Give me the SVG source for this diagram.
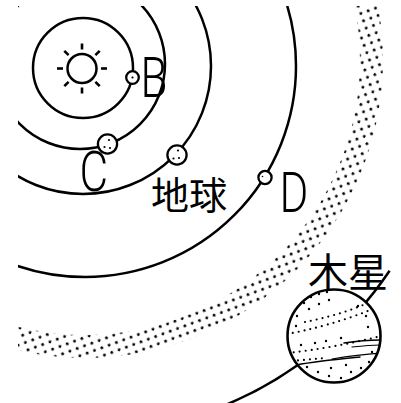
<svg xmlns="http://www.w3.org/2000/svg" width="401" height="403" viewBox="0 0 401 403">
  <style>
    .orbit { fill: none; stroke: #000; stroke-width: 2.5; }
    .planet { fill: #fff; stroke: #000; stroke-width: 2.3; }
    .spot { fill: #000; }
    .ray { stroke: #000; stroke-width: 2.6; }
    .letter { font-family: Roboto, "Liberation Sans", sans-serif; font-weight: 300; font-size: 55px; fill: #000; }
    .cjk { font-family: "Noto Sans CJK JP", "Noto Sans CJK SC", sans-serif; fill: #000; }
    .dotline { fill: none; stroke: #000; stroke-width: 2.2; stroke-linecap: round; stroke-dasharray: 0 6; }
    .band { fill: none; stroke: #000; stroke-linecap: round; }
  </style>
  <defs>
    <clipPath id="frame">
      <rect x="18" y="6" width="383" height="397"/>
    </clipPath>
    <clipPath id="jupiterInside">
      <circle cx="334" cy="336" r="46"/>
    </clipPath>
    <pattern id="beltDots" width="11" height="11" patternUnits="userSpaceOnUse" patternTransform="rotate(25)">
      <circle cx="2.75" cy="2.75" r="1.4" fill="#000"/>
      <circle cx="8.25" cy="8.25" r="1.4" fill="#000"/>
    </pattern>
  </defs>

  <rect width="401" height="403" fill="#fff"/>

  <!-- orbits -->
  <g id="connectors">
    <circle class="orbit" cx="83" cy="68" r="50"/>
    <g clip-path="url(#frame)">
      <circle class="orbit" cx="80" cy="64" r="85"/>
      <circle class="orbit" cx="83" cy="66" r="128"/>
      <circle class="orbit" cx="85" cy="66" r="211"/>
    </g>
    <path class="orbit" d="M389.6,270.7 A367,367 0 0 1 225.4,405"/>
  </g>

  <!-- asteroid belt -->
  <g id="belt" clip-path="url(#frame)">
    <path d="M85,-215 A275,275 0 0 1 85,335 A275,275 0 0 1 -190,60 L-213,60 A298,298 0 0 0 85,358 A298,298 0 0 0 85,-238 Z"
          fill="url(#beltDots)"/>
  </g>

  <!-- sun -->
  <g id="sun">
    <circle cx="82" cy="68.5" r="14.5" fill="#fff" stroke="#000" stroke-width="2.5"/>
    <g transform="translate(82,68.5)">
      <line class="ray" x1="19" y1="0" x2="25" y2="0"/>
      <line class="ray" x1="-19" y1="0" x2="-25" y2="0"/>
      <line class="ray" x1="0" y1="19" x2="0" y2="25"/>
      <line class="ray" x1="0" y1="-19" x2="0" y2="-25"/>
      <line class="ray" x1="13.4" y1="13.4" x2="17.7" y2="17.7"/>
      <line class="ray" x1="-13.4" y1="13.4" x2="-17.7" y2="17.7"/>
      <line class="ray" x1="13.4" y1="-13.4" x2="17.7" y2="-17.7"/>
      <line class="ray" x1="-13.4" y1="-13.4" x2="-17.7" y2="-17.7"/>
    </g>
  </g>

  <!-- planet B -->
  <g id="planet-b">
    <circle class="planet" cx="132.5" cy="77.5" r="6.3"/>
    <circle class="spot" cx="132.5" cy="77.5" r="1.1"/>
    <text class="letter" transform="translate(140.5,97) scale(0.8,1)">B</text>
  </g>

  <!-- planet C -->
  <g id="planet-c">
    <circle class="planet" cx="107.5" cy="144" r="9.6"/>
    <circle class="spot" cx="109" cy="140" r="1.1"/>
    <circle class="spot" cx="104.5" cy="147" r="1.1"/>
    <circle class="spot" cx="110" cy="148" r="1.1"/>
    <text class="letter" transform="translate(79.5,191) scale(0.8,1)">C</text>
  </g>

  <!-- Earth -->
  <g id="earth">
    <circle class="planet" cx="177" cy="155" r="9.6"/>
    <circle class="spot" cx="178" cy="150.5" r="1.1"/>
    <circle class="spot" cx="173.5" cy="158.5" r="1.1"/>
    <circle class="spot" cx="179" cy="158" r="1.1"/>
    <text class="cjk" x="151" y="209" font-size="38">地球</text>
  </g>

  <!-- planet D -->
  <g id="planet-d">
    <circle class="planet" cx="265" cy="177.5" r="6.6"/>
    <circle class="spot" cx="262.5" cy="176.5" r="0.8"/>
    <text class="letter" transform="translate(279.5,212) scale(0.8,1)">D</text>
  </g>

  <!-- Jupiter -->
  <g id="jupiter">
    <circle cx="334" cy="336" r="46.5" fill="#fff"/>
    <g clip-path="url(#jupiterInside)">
      <path class="dotline" d="M287,334 C310,330 345,321 380,306"/>
      <path class="dotline" d="M305,322 C325,318 348,312 370,302"/>
      <path class="dotline" d="M288,353 C315,350 350,344 381,336"/>
      <path class="dotline" d="M292,361 L325,358"/>
      <path class="band" stroke-width="1.6" d="M344,343 C358,341 370,340 382,340"/>
      <path class="band" stroke-width="1.2" d="M352,347 C362,346 372,345 382,345"/>
      <path class="band" stroke-width="1.4" d="M296,365 C318,361 340,359 360,357"/>
      <path class="band" stroke-width="1.2" d="M332,359 C350,356 366,354 382,353"/>
      <g class="spot">
        <circle cx="304" cy="303" r="1.2"/>
        <circle cx="311" cy="297" r="1.2"/>
        <circle cx="319" cy="294" r="1.2"/>
        <circle cx="327" cy="292" r="1.2"/>
        <circle cx="309" cy="309" r="1.2"/>
        <circle cx="319" cy="304" r="1.2"/>
        <circle cx="297" cy="316" r="1.2"/>
        <circle cx="329" cy="300" r="1.2"/>
        <circle cx="296" cy="326" r="1.2"/>
        <circle cx="366" cy="316" r="1.2"/>
        <circle cx="358" cy="306" r="1.2"/>
        <circle cx="315" cy="343" r="1.2"/>
        <circle cx="326" cy="341" r="1.2"/>
        <circle cx="341" cy="338" r="1.2"/>
        <circle cx="301" cy="345" r="1.2"/>
        <circle cx="368" cy="327" r="1.2"/>
        <circle cx="318" cy="372" r="1.2"/>
        <circle cx="329" cy="376" r="1.2"/>
        <circle cx="341" cy="378" r="1.2"/>
        <circle cx="351" cy="372" r="1.2"/>
        <circle cx="361" cy="368" r="1.2"/>
        <circle cx="346" cy="365" r="1.2"/>
        <circle cx="331" cy="368" r="1.2"/>
        <circle cx="307" cy="367" r="1.2"/>
        <circle cx="369" cy="362" r="1.2"/>
        <circle cx="372" cy="352" r="1.2"/>
      </g>
    </g>
    <circle cx="334" cy="336" r="46.5" fill="none" stroke="#000" stroke-width="2.6"/>
    <text class="cjk" x="308" y="287" font-size="40">木星</text>
  </g>
</svg>
